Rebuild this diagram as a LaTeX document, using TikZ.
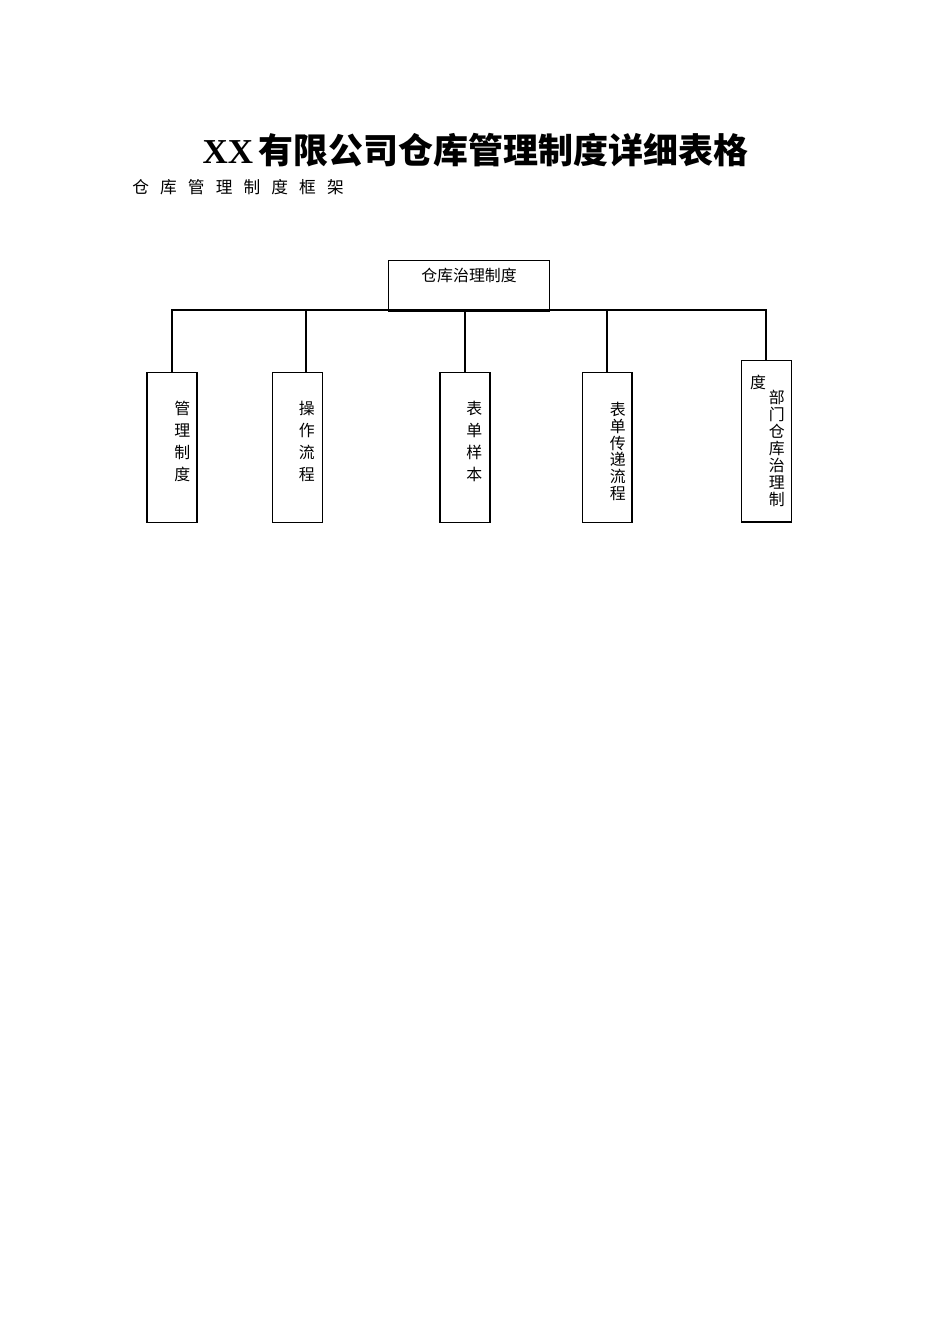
\documentclass[tikz,border=0pt]{standalone}
\usepackage{fontspec}
\setmainfont{Liberation Serif}
\newfontfamily\cjk{Noto Sans CJK SC}
\newfontfamily\cjkb{Noto Sans CJK SC Bold}
\begin{document}
\begin{tikzpicture}[x=0.022105cm,y=-0.022105cm,
  boxline/.style={draw=black,line width=0.65pt,inner sep=0pt},
  conn/.style={draw=black,line width=0.65pt},
  vlabel/.style={inner sep=0pt,anchor=north,align=center,font=\cjk\fontsize{10}{13.8}\selectfont},
  vlabeltight/.style={inner sep=0pt,anchor=north,align=center,font=\cjk\fontsize{10}{10.5}\selectfont}]
\useasboundingbox[fill=white] (0,0) rectangle (950,1344);
% title
\node[inner sep=0pt] (title) at (475.5,150) {\fontsize{22}{24}\selectfont\bfseries XX\,\cjkb 有限公司仓库管理制度详细表格};
\node[inner sep=0pt,anchor=west] (sub) at (132,187) {\cjk\fontsize{10.5}{12}\selectfont 仓\hspace{7pt}库\hspace{7pt}管\hspace{7pt}理\hspace{7pt}制\hspace{7pt}度\hspace{7pt}框\hspace{7pt}架};
% boxes
\node[boxline,minimum width=3.574cm,minimum height=1.127cm] (top) at (469,285.5) {};
\node[inner sep=0pt,font=\cjk\fontsize{10}{12}\selectfont] (toplbl) at (469,275) {仓库治理制度};
\node[boxline,minimum width=1.105cm,minimum height=3.316cm] (c1) at (172,447.5) {};
\node[boxline,minimum width=1.105cm,minimum height=3.316cm] (c2) at (297.3,447.5) {};
\node[boxline,minimum width=1.105cm,minimum height=3.316cm] (c3) at (465,447.5) {};
\node[boxline,minimum width=1.105cm,minimum height=3.316cm] (c4) at (607,447.5) {};
\node[boxline,minimum width=1.105cm,minimum height=3.581cm] (c5) at (766.7,441) {};
% labels
\node[vlabel] (l1) at (182.3,401) {管\\理\\制\\度};
\node[vlabel] (l2) at (306.7,401) {操\\作\\流\\程};
\node[vlabel] (l3) at (474.3,401) {表\\单\\样\\本};
\node[vlabeltight] (l4) at (617.7,402) {表\\单\\传\\递\\流\\程};
\node[inner sep=0pt,font=\cjk\fontsize{10}{12}\selectfont] (l5a) at (758,382) {度};
\node[inner sep=0pt,anchor=north,align=center,font=\cjk\fontsize{10}{10.7}\selectfont] (l5b) at (776.7,390) {部\\门\\仓\\库\\治\\理\\制};
% connectors
\coordinate (b1) at (172,310);
\coordinate (b2) at (306,310);
\coordinate (b4) at (607,310);
\coordinate (b5) at (766,310);
\draw[conn] (b1 |- c1.north) -- (b1) -- (b5) -- (b5 |- c5.north);
\draw[conn] (b2) -- (b2 |- c2.north);
\draw[conn] (b4) -- (b4 |- c4.north);
\draw[draw=black,line width=1.2pt] (c3.north |- top.south) -- (c3.north);
\end{tikzpicture}
\end{document}
